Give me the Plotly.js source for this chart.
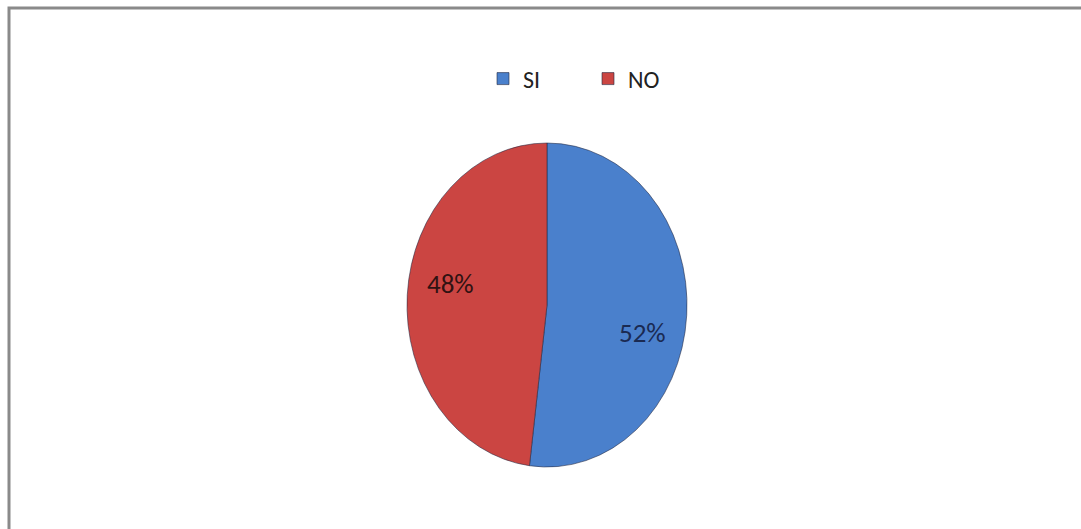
<!DOCTYPE html>
<html>
<head>
<meta charset="utf-8">
<script src="https://cdn.plot.ly/plotly-3.0.1.min.js"></script>
<style>
html,body{margin:0;padding:0;background:#fff;}
#chart{width:1081px;height:529px;}
</style>
</head>
<body>
<div id="chart"></div>
<script>
const categories = ['SI', 'NO'];
const values = [52, 48];
const colors = ['#4a80cc', '#cb4542'];

const W = 1081, H = 529;
const M = {l: 100, r: 87, t: 143, b: 62};
const pw = W - M.l - M.r, ph = H - M.t - M.b;
const FONT = 'Carlito, Roboto, "Liberation Sans Narrow", Arial, sans-serif';

const total = values.reduce((a, b) => a + b, 0);
const pct = values.map(v => Math.round(v / total * 100) + '%');

const trace = {
  type: 'pie',
  labels: categories,
  values: values,
  sort: false,
  direction: 'clockwise',
  rotation: 0,
  textinfo: 'none',
  hoverinfo: 'label+percent',
  marker: {colors: colors, line: {color: 'rgba(35,40,65,0.6)', width: 1}},
  domain: {x: [0, 1], y: [0, 1]}
};

const px = x => (x - M.l) / pw;
const py = y => 1 - (y - M.t) / ph;

const labelPos = [[642, 332], [450, 283]];
const labelColors = ['#1a2a52', '#301212'];
const annotations = pct.map((t, i) => ({
  text: t, xref: 'paper', yref: 'paper',
  x: px(labelPos[i][0]), y: py(labelPos[i][1]),
  showarrow: false, xanchor: 'center', yanchor: 'middle',
  font: {family: FONT, size: 27, color: labelColors[i]}
}));

const layout = {
  width: W, height: H,
  margin: M,
  paper_bgcolor: '#ffffff',
  showlegend: true,
  legend: {
    orientation: 'h', xref: 'container', yref: 'container',
    x: 483 / W, y: 1 - 79 / H, xanchor: 'left', yanchor: 'middle',
    font: {family: FONT, size: 24, color: '#222'},
    entrywidth: 60, entrywidthmode: 'pixels',
    itemwidth: 30, bgcolor: 'rgba(0,0,0,0)'
  },
  annotations: annotations,
  shapes: [{
    type: 'rect', xref: 'paper', yref: 'paper',
    x0: px(9), x1: px(1090), y0: py(540), y1: py(8),
    line: {color: '#8a8a8a', width: 3}, fillcolor: 'rgba(0,0,0,0)', layer: 'below'
  }]
};

Plotly.newPlot('chart', [trace], layout, {displayModeBar: false, staticPlot: true}).then(() => {
  const cx = M.l + pw / 2;
  const s = 280 / ph;
  document.querySelectorAll('.pielayer .trace').forEach(g => {
    g.setAttribute('transform', `translate(${cx},0) scale(${s},1) translate(${-cx},0)`);
  });
});
</script>
</body>
</html>
